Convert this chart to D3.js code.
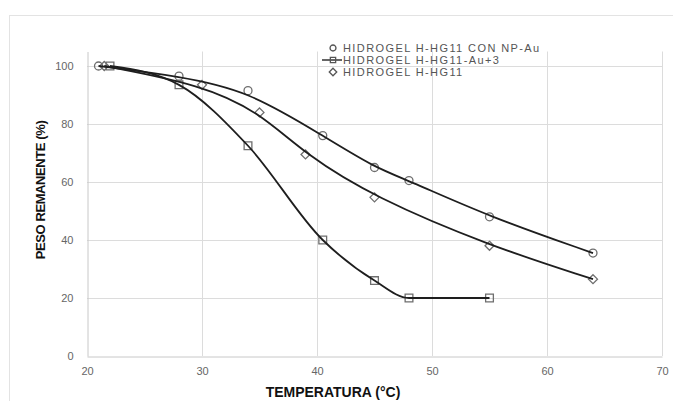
<!DOCTYPE html>
<html>
<head>
<meta charset="utf-8">
<script src="https://cdn.jsdelivr.net/npm/d3@7"></script>
<style>
  body { margin: 0; background: #fff; }
  text { font-family: "Liberation Sans", Arial, sans-serif; }
</style>
</head>
<body>
<div id="chart"></div>
<script>
// data: [temperature, remaining weight %]
var np_au = [[21, 100], [28, 96.5], [34, 91.5], [40.5, 76], [45, 65], [48, 60.5], [55, 48], [64, 35.5]];
var au3 = [[22, 100], [28, 93.5], [34, 72.5], [40.5, 40], [45, 26], [48, 20], [55, 20]];
var hg11 = [[21.5, 100], [30, 93.5], [35, 84], [39, 69.5], [45, 54.7], [55, 38], [64, 26.5]];
var series_names = ['HIDROGEL H-HG11 CON NP-Au', 'HIDROGEL H-HG11-Au+3', 'HIDROGEL H-HG11'];
var x_ticks = [20, 30, 40, 50, 60, 70];
var y_ticks = [0, 20, 40, 60, 80, 100];

var chart_width = 673;
var chart_height = 401;

var svg = d3.select('#chart')
  .append('svg')
  .attr('width', chart_width)
  .attr('height', chart_height);

// outer frame
svg.append('rect')
  .attr('x', 9.5).attr('y', 15.5)
  .attr('width', 680).attr('height', 400)
  .attr('fill', 'none')
  .attr('stroke', '#e3e3e3');

var x_scale = d3.scaleLinear().domain([20, 70]).range([87, 662]);
var y_scale = d3.scaleLinear().domain([0, 105]).range([356, 51.5]);

// gridlines
svg.append('g')
  .selectAll('line')
  .data(y_ticks.slice(1))
  .enter()
  .append('line')
  .attr('x1', x_scale(20)).attr('x2', x_scale(70))
  .attr('y1', function(d) { return Math.round(y_scale(d)) + 0.5; })
  .attr('y2', function(d) { return Math.round(y_scale(d)) + 0.5; })
  .attr('stroke', '#dcdcdc');

svg.append('g')
  .selectAll('line')
  .data(x_ticks.slice(1))
  .enter()
  .append('line')
  .attr('x1', function(d) { return Math.round(x_scale(d)) + 0.5; })
  .attr('x2', function(d) { return Math.round(x_scale(d)) + 0.5; })
  .attr('y1', y_scale(105)).attr('y2', y_scale(0))
  .attr('stroke', '#dcdcdc');

// axes
var x_axis = d3.axisBottom(x_scale).tickValues(x_ticks).tickSize(0).tickPadding(11);
svg.append('g')
  .attr('class', 'x-axis')
  .attr('transform', 'translate(0,' + (Math.round(y_scale(0)) + 0.5) + ')')
  .call(x_axis);

var y_axis = d3.axisLeft(y_scale).tickValues(y_ticks).tickSize(0).tickPadding(14);
svg.append('g')
  .attr('class', 'y-axis')
  .attr('transform', 'translate(' + (Math.round(x_scale(20)) + 0.5) + ',0)')
  .call(y_axis);

svg.selectAll('.x-axis path, .y-axis path').attr('stroke', '#c8c8c8');
svg.selectAll('.x-axis text, .y-axis text')
  .attr('fill', '#666')
  .style('font-size', '11px');

// axis titles
svg.append('text')
  .attr('x', 333).attr('y', 397)
  .attr('text-anchor', 'middle')
  .style('font-size', '14px').style('font-weight', 'bold')
  .attr('fill', '#111')
  .text('TEMPERATURA  (°C)');

svg.append('text')
  .attr('transform', 'translate(45,190) rotate(-90)')
  .attr('text-anchor', 'middle')
  .style('font-size', '13px').style('font-weight', 'bold')
  .style('letter-spacing', '-0.4px')
  .attr('fill', '#111')
  .text('PESO REMANENTE (%)');

// marker symbols (diamond = square turned 45 degrees)
var diamond = {
  draw: function(context, size) {
    var r = Math.sqrt(size / 2);
    context.moveTo(0, -r);
    context.lineTo(r, 0);
    context.lineTo(0, r);
    context.lineTo(-r, 0);
    context.closePath();
  }
};
var sym = [d3.symbolCircle, d3.symbolSquare, diamond];
var sym_size = [50, 60, 40];
var all_series = [np_au, au3, hg11];

all_series.forEach(function(data, i) {
  svg.append('g')
    .selectAll('path')
    .data(data)
    .enter()
    .append('path')
    .attr('d', d3.symbol().type(sym[i]).size(sym_size[i]))
    .attr('transform', function(d) {
      return 'translate(' + x_scale(d[0]) + ',' + y_scale(d[1]) + ')';
    })
    .attr('fill', 'none')
    .attr('stroke', '#6e6e6e')
    .attr('stroke-width', 1.3);
});

// smooth trend lines
var curves = [d3.curveBasis, d3.curveMonotoneX, d3.curveBasis];
all_series.forEach(function(data, i) {
  var line = d3.line()
    .x(function(d) { return x_scale(d[0]); })
    .y(function(d) { return y_scale(d[1]); })
    .curve(curves[i]);
  svg.append('path')
    .datum(data)
    .attr('d', line)
    .attr('fill', 'none')
    .attr('stroke', '#1e1e1e')
    .attr('stroke-width', 1.8);
});

// legend
var legend = svg.append('g').attr('transform', 'translate(333,0)');
var legend_y = [48, 60, 72];
series_names.forEach(function(name, i) {
  if (i === 1) {
    legend.append('line')
      .attr('x1', -11).attr('x2', 9)
      .attr('y1', legend_y[i]).attr('y2', legend_y[i])
      .attr('stroke', '#333').attr('stroke-width', 1.5);
  }
  legend.append('path')
    .attr('d', d3.symbol().type(sym[i]).size(28))
    .attr('transform', 'translate(0,' + legend_y[i] + ')')
    .attr('fill', 'none')
    .attr('stroke', '#555')
    .attr('stroke-width', 1.3);
  legend.append('text')
    .attr('x', 10).attr('y', legend_y[i] + 4)
    .style('font-size', '11px')
    .style('letter-spacing', '1.4px')
    .attr('fill', '#555')
    .text(name);
});
</script>
</body>
</html>
